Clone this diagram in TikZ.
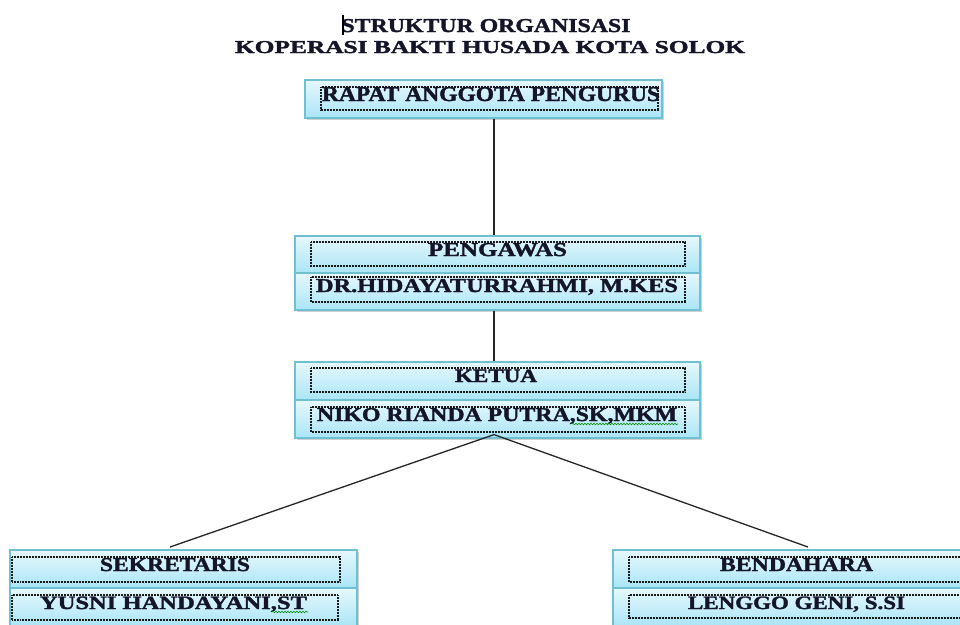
\documentclass[tikz,border=0pt]{standalone}
\usepackage{graphicx}
\usepackage{fontspec}
\setmainfont{Liberation Serif}[BoldFeatures={FakeBold=1.6}]
\usetikzlibrary{shadows,decorations.pathmorphing}
\definecolor{boxtop}{HTML}{E6F8FD}
\definecolor{boxbot}{HTML}{AAE5F7}
\definecolor{boxline}{HTML}{6FC0D3}
\definecolor{txt}{HTML}{15152A}
\newcommand{\fitlbl}[3]{\resizebox{#1pt}{#2pt}{\bfseries #3}}
\tikzset{
  halfbox/.style={rectangle, draw=boxline, line width=1.2pt, top color=boxtop, bottom color=boxbot, inner sep=0pt,
    drop shadow={shadow xshift=1.5pt, shadow yshift=-1.5pt, opacity=0.3, fill=black!60}},
  dotbox/.style={draw=black!90, line width=1.1pt, dash pattern=on 0.8pt off 0.7pt},
  lbl/.style={anchor=base, inner sep=0pt, text=txt},
  link/.style={draw=black!85, line width=1.3pt},
  squiggle/.style={draw=green!55!black, line width=0.6pt, decorate, decoration={snake, segment length=3pt, amplitude=0.8pt}}
}
\begin{document}
\begin{tikzpicture}[x=1pt,y=-1pt]
\useasboundingbox (0,0) rectangle (960,624);
\clip (0,0) rectangle (960,624);
\fill[white] (0,0) rectangle (960,624);

% title
\node[lbl] (title1) at (486,32) {\fitlbl{289}{13}{STRUKTUR ORGANISASI}};
\node[lbl] (title2) at (490,53) {\fitlbl{510}{12}{KOPERASI BAKTI HUSADA KOTA SOLOK}};
\draw[line width=1.6pt, black] (343,15) -- (343,35);

% boxes
\node[halfbox, minimum width=357pt, minimum height=38pt] (rapat) at (483.5,99) {};
\node[halfbox, minimum width=405pt, minimum height=37pt] (pengawasA) at (497.5,254.5) {};
\node[halfbox, minimum width=405pt, minimum height=37pt] (pengawasB) at (497.5,291.5) {};
\node[halfbox, minimum width=405pt, minimum height=38pt] (ketuaA) at (497.5,381) {};
\node[halfbox, minimum width=405pt, minimum height=38pt] (ketuaB) at (497.5,419) {};
\node[halfbox, minimum width=347pt, minimum height=38pt] (sekA) at (183.5,569) {};
\node[halfbox, minimum width=347pt, minimum height=38pt] (sekB) at (183.5,607) {};
\node[halfbox, minimum width=362pt, minimum height=38pt] (benA) at (794,569) {};
\node[halfbox, minimum width=362pt, minimum height=38pt] (benB) at (794,607) {};

% dotted text frames
\draw[dotbox] (321,87) rectangle (658,110);
\draw[dotbox] (311,242) rectangle (685,266);
\draw[dotbox] (311,277) rectangle (685,302);
\draw[dotbox] (311,368) rectangle (685,392);
\draw[dotbox] (311,407) rectangle (685,432);
\draw[dotbox] (12,557) rectangle (340,582);
\draw[dotbox] (12,595) rectangle (338,620);
\draw[dotbox] (629,557) rectangle (975,582);
\draw[dotbox] (629,595) rectangle (975,618);

% labels
\node[lbl] (tRapat) at (491,101) {\fitlbl{338}{14}{RAPAT ANGGOTA PENGURUS}};
\node[lbl] (tPengawas) at (497.5,256) {\fitlbl{139}{13}{PENGAWAS}};
\node[lbl] (tHidayat) at (497,292) {\fitlbl{362}{13}{DR.HIDAYATURRAHMI, M.KES}};
\node[lbl] (tKetua) at (496,382) {\fitlbl{82}{12.5}{KETUA}};
\node[lbl] (tNiko) at (497,421) {\fitlbl{360}{13}{NIKO RIANDA PUTRA,SK,MKM}};
\node[lbl] (tSek) at (175,571) {\fitlbl{150}{13}{SEKRETARIS}};
\node[lbl] (tYusni) at (173.5,609) {\fitlbl{267}{12.5}{YUSNI HANDAYANI,ST}};
\node[lbl] (tBen) at (796.5,571) {\fitlbl{153}{13}{BENDAHARA}};
\node[lbl] (tLenggo) at (796.5,609) {\fitlbl{217}{12.5}{LENGGO GENI, S.SI}};

% spell-check squiggles
\draw[squiggle] (572,424) -- (678,424);
\draw[squiggle] (272,612) -- (308,612);

% connectors
\coordinate (spine) at (494,0);
\coordinate (sekEnd) at (170,547);
\coordinate (benEnd) at (808,547);
\draw[link] (rapat.south -| spine) -- (pengawasA.north -| spine);
\draw[link] (pengawasB.south -| spine) -- (ketuaA.north -| spine);
\draw[link] ([yshift=4pt]ketuaB.south -| spine) -- (sekEnd);
\draw[link] ([yshift=4pt]ketuaB.south -| spine) -- (benEnd);
\end{tikzpicture}
\end{document}
